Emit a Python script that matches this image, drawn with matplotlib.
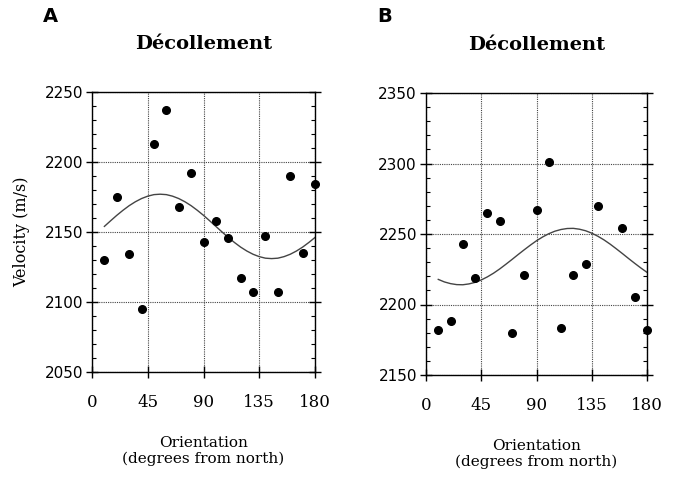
import matplotlib
matplotlib.use('Agg')
import matplotlib.pyplot as plt
from matplotlib.ticker import MultipleLocator

# Données
orient_a = [10, 20, 30, 40, 50, 60, 70, 80, 90, 100, 110, 120, 130, 140, 150, 160, 170, 180]
vel_a = [2130, 2175, 2134, 2095, 2213, 2237, 2168, 2192, 2143, 2158, 2146, 2117, 2107, 2147, 2107, 2190, 2135, 2184]

orient_b = [10, 20, 30, 40, 50, 60, 70, 80, 90, 100, 110, 120, 130, 140, 160, 170, 180]
vel_b = [2182, 2188, 2243, 2219, 2265, 2259, 2180, 2221, 2267, 2301, 2183, 2221, 2229, 2270, 2254, 2205, 2182]

# Courbes ajustées (lues tous les 5 degrés)
courbe_x = list(range(10, 181, 5))
courbe_a = [2154.0, 2158.0, 2161.9, 2165.5, 2168.8, 2171.6, 2173.9, 2175.6, 2176.7, 2177.0,
            2176.7, 2175.6, 2173.9, 2171.6, 2168.8, 2165.5, 2161.9, 2158.0, 2154.0, 2150.0,
            2146.1, 2142.5, 2139.2, 2136.4, 2134.1, 2132.4, 2131.3, 2131.0, 2131.3, 2132.4,
            2134.1, 2136.4, 2139.2, 2142.5, 2146.1]
courbe_b = [2217.8, 2216.0, 2214.8, 2214.1, 2214.0, 2214.6, 2215.7, 2217.4, 2219.6, 2222.2,
            2225.2, 2228.5, 2231.9, 2235.4, 2238.8, 2242.1, 2245.2, 2247.9, 2250.2, 2252.0,
            2253.2, 2253.9, 2254.0, 2253.4, 2252.3, 2250.6, 2248.4, 2245.8, 2242.8, 2239.5,
            2236.1, 2232.6, 2229.2, 2225.9, 2222.8]

x_ticks = [0, 45, 90, 135, 180]
ylim_a = (2050, 2250)
ylim_b = (2150, 2350)

serif = ['DejaVu Serif']
sans = ['DejaVu Sans']

fig = plt.figure(figsize=(6.77, 4.79), dpi=100)
ax1 = fig.add_axes([92/677, 1-372/479, 223/677, 280/479])
ax2 = fig.add_axes([426/677, 1-375/479, 221/677, 282/479])


def panneau(ax, ox, oy, cx, cy, ylim, lettre):
    ax.plot(cx, cy, color='#444444', lw=1.0)
    ax.plot(ox, oy, 'o', color='black', markersize=5.5, clip_on=False, zorder=5)
    ax.set_xlim(0, 180)
    ax.set_ylim(*ylim)
    ax.set_xticks(x_ticks)
    ax.yaxis.set_major_locator(MultipleLocator(50))
    ax.yaxis.set_minor_locator(MultipleLocator(10))
    ax.tick_params(axis='x', direction='inout', length=8, width=1, top=False, labelsize=12, pad=12)
    ax.tick_params(axis='y', which='major', direction='inout', length=9, width=1, left=True, right=True, labelsize=11, pad=2)
    ax.tick_params(axis='y', which='minor', direction='in', length=3, width=0.8, left=True, right=True)
    for lab in ax.get_xticklabels():
        lab.set_family(serif)
    for lab in ax.get_yticklabels():
        lab.set_family(sans)
    ax.grid(True, which='major', color='#444444', linestyle=(0, (1, 1)), lw=0.8)
    for s in ax.spines.values():
        s.set_linewidth(1.0)
    ax.set_xlabel('Orientation\n(degrees from north)', family=serif, fontsize=11, labelpad=18, linespacing=1.1)
    ax.set_title('Décollement', family=serif, fontweight='bold', fontsize=14, pad=31)
    ax.text(-0.22, 1.27, lettre, transform=ax.transAxes, family=sans, fontweight='bold', fontsize=14,
            ha='left', va='center')


panneau(ax1, orient_a, vel_a, courbe_x, courbe_a, ylim_a, 'A')
panneau(ax2, orient_b, vel_b, courbe_x, courbe_b, ylim_b, 'B')
ax1.set_ylabel('Velocity (m/s)', family=serif, fontsize=11.5, labelpad=10)

fig.savefig('out.png', dpi=100)
